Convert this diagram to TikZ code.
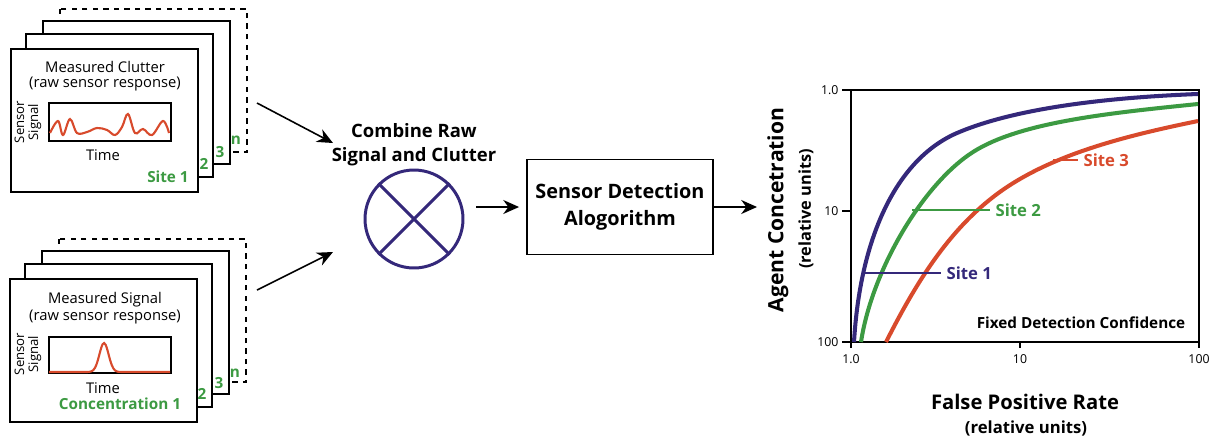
\documentclass[tikz,border=0pt]{standalone}
\usepackage{fontspec}
\setmainfont{Open Sans}
\usetikzlibrary{arrows.meta}

\definecolor{sitepurple}{RGB}{52,40,122}
\definecolor{sitegreen}{RGB}{60,154,66}
\definecolor{sitered}{RGB}{216,74,44}

\tikzset{
    card/.style={draw, fill=white, line width=1.1pt},
    flow/.style={-{Stealth[length=9pt, width=8pt]}, line width=0.9pt},
    cardnum/.style={text=sitegreen, font=\fontsize{8.7}{11}\selectfont\bfseries},
    ticklab/.style={font=\fontsize{7}{8}\selectfont, inner sep=1.5pt},
    roc/.style={line width=2.3pt},
    leader/.style={line width=0.9pt},
    sitelab/.style={font=\fontsize{9.5}{11}\selectfont\bfseries, inner sep=3pt}
}

\begin{document}
\begin{tikzpicture}[x=0.02cm, y=-0.02cm, font=\fontsize{8.4}{10}\selectfont]
    \useasboundingbox (0,0) rectangle (1213,440);

    % clutter stack
    \begin{scope}
        \draw[card, dashed] (60,9) rectangle ++(187,143);
        \foreach \cx/\cy in {43/21, 26/34, 11/49} {
            \draw[card] (\cx,\cy) rectangle ++(187,143);
        }
        \node (cluttitle) at (105,67) {Measured Clutter};
        \node (cluttsub) at (105,84) {(raw sensor response)};
        \draw[line width=1pt] (49,103) rectangle (171,141);
        \draw[sitered, line width=1.2pt] plot[smooth, tension=0.6] coordinates {
            (50,133) (58,121) (63,135) (70,119) (77,133) (87,132) (97,128) (107,130)
            (115,135) (122,127) (128,114) (135,133) (143,129) (152,135) (163,121) (169,133)};
        \node[rotate=90, align=center, font=\fontsize{7.5}{8}\selectfont] (cluty) at (28,122) {Sensor\\Signal};
        \node (clutx) at (103,155) {Time};
        \node[cardnum] (clutsite) at (168,177) {Site 1};
        \node[cardnum] (clut2) at (204,164) {2};
        \node[cardnum] (clut3) at (220,152) {3};
        \node[cardnum] (clutn) at (236,140) {n};
    \end{scope}

    % signal stack
    \begin{scope}[shift={(-1,230)}]
        \draw[card, dashed] (60,9) rectangle ++(187,143);
        \foreach \cx/\cy in {43/21, 26/34, 11/49} {
            \draw[card] (\cx,\cy) rectangle ++(187,143);
        }
        \node (sigtitle) at (106,70) {Measured Signal};
        \node (sigsub) at (106,87) {(raw sensor response)};
        \draw[line width=1pt] (50,107) rectangle (172,143);
        \draw[sitered, line width=1.2pt] plot[domain=50:171, samples=80, smooth]
            (\x, {142 - 29*exp(-((\x-105)/6.5)^2)});
        \node[rotate=90, align=center, font=\fontsize{7.5}{8}\selectfont] (sigy) at (29,124) {Sensor\\Signal};
        \node (sigx) at (104,158) {Time};
        \node[cardnum] (sigconc) at (121,174) {Concentration 1};
        \node[cardnum] (sig2) at (203,164) {2};
        \node[cardnum] (sig3) at (220,153) {3};
        \node[cardnum] (sign) at (236,143) {n};
    \end{scope}

    % combine and detect
    \node[circle, draw=sitepurple, line width=1.7pt, minimum size=1.96cm] (comb) at (414,219) {};
    \draw[sitepurple, line width=1.7pt] (comb.north west) -- (comb.south east);
    \draw[sitepurple, line width=1.7pt] (comb.north east) -- (comb.south west);
    \node[align=center, font=\fontsize{10.5}{13.5}\selectfont\bfseries] (combtext) at (414,145) {Combine Raw\\Signal and Clutter};

    \node[draw, line width=1.1pt, minimum width=3.72cm, minimum height=1.9cm, align=center,
          font=\fontsize{11.3}{15.5}\selectfont\bfseries] (algo) at (620,207) {Sensor Detection\\Alogorithm};

    \coordinate (clutout) at (257,103);
    \coordinate (sigout) at (257,290);
    \coordinate (combin1) at (333,143);
    \coordinate (combin2) at (333,252);
    \coordinate (mixout) at (476,207);
    \coordinate (plotin) at (757,207);

    \draw[flow] (clutout) -- (combin1);
    \draw[flow] (sigout) -- (combin2);
    \draw[flow, shorten >=0.14cm] (mixout) -- (mixout -| algo.west);
    \draw[flow] (algo.east) -- (plotin);

    % detection curves
    \draw[line width=1.1pt] (851,90) rectangle (1199,342);
    \foreach \y/\t in {90/1.0, 211/10, 342/100} {
        \draw[line width=1.1pt] (851,\y) -- (842,\y) node[left, ticklab] (yt\y) {\t};
    }
    \foreach \x/\t in {851/1.0, 1020/10, 1199/100} {
        \draw[line width=1.1pt] (\x,342) -- (\x,348) node[below, ticklab, inner sep=3pt] (xt\x) {\t};
    }

    \draw[roc, sitepurple] (854,342) .. controls (860,240) and (895,160) .. (957,133)
        .. controls (1020,106) and (1120,97) .. (1198,94);
    \draw[roc, sitegreen] (861,342) .. controls (872,270) and (923,184) .. (973,152)
        .. controls (1020,122) and (1110,113) .. (1198,104);
    \draw[roc, sitered] (886,342) .. controls (915,285) and (950,225) .. (1007,187)
        .. controls (1060,152) and (1130,135) .. (1198,121);

    \coordinate (on1) at (862,273);
    \coordinate (on2) at (912,210);
    \coordinate (on3) at (1053,160);
    \node[sitelab, sitepurple, anchor=west] (site1) at (941,273) {Site 1};
    \node[sitelab, sitegreen, anchor=west] (site2) at (990,210) {Site 2};
    \node[sitelab, sitered, anchor=west] (site3) at (1078,160) {Site 3};
    \draw[leader, sitepurple] (on1) -- (site1.west);
    \draw[leader, sitegreen] (on2) -- (site2.west);
    \draw[leader, sitered] (on3) -- (site3.west);

    \node[font=\fontsize{8.7}{10}\selectfont\bfseries] (fixed) at (1081,323) {Fixed Detection Confidence};

    \node[font=\fontsize{11.5}{14}\selectfont\bfseries] (xlab) at (1025,402) {False Positive Rate};
    \node[font=\fontsize{9.5}{11}\selectfont\bfseries] (xunit) at (1026,428) {(relative units)};
    \node[rotate=90, font=\fontsize{12}{14}\selectfont\bfseries] (ylab) at (778,210) {Agent Concetration};
    \node[rotate=90, font=\fontsize{9.3}{11}\selectfont\bfseries] (yunit) at (806,209) {(relative units)};
\end{tikzpicture}
\end{document}
